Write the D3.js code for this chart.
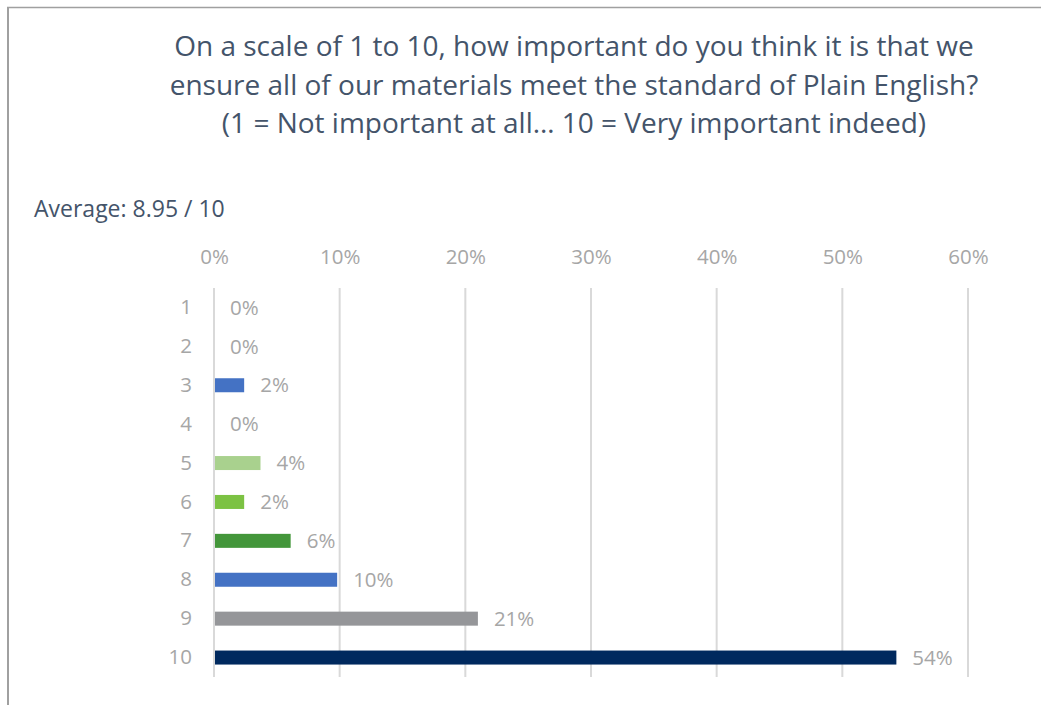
<!DOCTYPE html>
<html>
<head>
<meta charset="utf-8">
<script src="https://cdn.jsdelivr.net/npm/d3@7"></script>
<style>
  html, body { margin: 0; padding: 0; background: #fff; }
  svg { display: block; }
  text { font-family: "Open Sans", sans-serif; }
</style>
</head>
<body>
<svg id="chart" width="1041" height="705"></svg>
<script>
// Survey responses: share of respondents for each score
const scores = ["1", "2", "3", "4", "5", "6", "7", "8", "9", "10"];
const shares = [0, 0, 0.024, 0, 0.037, 0.024, 0.061, 0.098, 0.21, 0.543];
const barColors = ["#4472c4", "#4472c4", "#4472c4", "#4472c4", "#a9d18e",
                   "#7cc243", "#43963a", "#4472c4", "#959699", "#00295e"];
const xTicks = [0, 0.1, 0.2, 0.3, 0.4, 0.5, 0.6];
const titleLines = [
  "On a scale of 1 to 10, how important do you think it is that we",
  "ensure all of our materials meet the standard of Plain English?",
  "(1 = Not important at all\u2026 10 = Very important indeed)"
];
const averageText = "Average: 8.95 / 10";

const svg = d3.select("#chart");
const labelFont = "'Open Sans', sans-serif";
const labelSize = 20.5;
const labelColor = "#a6a6a6";

// Frame
svg.append("line").attr("x1", 7).attr("x2", 1041).attr("y1", 7.5).attr("y2", 7.5)
  .attr("stroke", "#a0a0a0").attr("stroke-width", 1.5);
svg.append("line").attr("x1", 8).attr("x2", 8).attr("y1", 7).attr("y2", 705)
  .attr("stroke", "#a0a0a0").attr("stroke-width", 2);

// Title
svg.append("g").selectAll("text").data(titleLines).join("text")
  .attr("x", 574).attr("y", (d, i) => 56 + i * 38.5)
  .attr("text-anchor", "middle")
  .attr("font-family", "Lato, sans-serif")
  .attr("font-size", 28)
  .attr("fill", "#44546a")
  .text(d => d);

svg.append("text")
  .attr("x", 34).attr("y", 217)
  .attr("font-size", 23)
  .attr("fill", "#44546a")
  .text(averageText);

const x = d3.scaleLinear().domain([0, 0.6]).range([214, 968]);
const y = d3.scaleBand().domain(scores).range([288, 677]).paddingInner(0.64).paddingOuter(0.32);

// Gridlines
svg.append("g").selectAll("line").data(xTicks).join("line")
  .attr("x1", d => x(d)).attr("x2", d => x(d))
  .attr("y1", 288).attr("y2", 677)
  .attr("stroke", "#d9d9d9").attr("stroke-width", 2);

// Top axis labels
const xAxis = svg.append("g").attr("transform", "translate(0,264)")
  .call(d3.axisTop(x).tickValues(xTicks).tickFormat(d3.format(".0%")).tickSize(0).tickPadding(0));
xAxis.select(".domain").remove();
xAxis.attr("font-family", labelFont).attr("font-size", labelSize);
xAxis.selectAll("text").attr("fill", labelColor).attr("dy", 0);

// Category labels
const yAxis = svg.append("g").attr("transform", "translate(192,0)")
  .call(d3.axisLeft(y).tickSize(0).tickPadding(0));
yAxis.select(".domain").remove();
yAxis.attr("font-family", labelFont).attr("font-size", labelSize);
yAxis.selectAll("text").attr("fill", labelColor);

const rows = scores.map((s, i) => ({ s, v: shares[i], c: barColors[i] }));

// Bars
svg.append("g").selectAll("rect").data(rows).join("rect")
  .attr("x", x(0) + 1)
  .attr("y", d => y(d.s))
  .attr("width", d => Math.max(0, x(d.v) - x(0) - 1))
  .attr("height", y.bandwidth())
  .attr("fill", d => d.c);

// Value labels
svg.append("g").selectAll("text").data(rows).join("text")
  .attr("x", d => x(d.v) + 16)
  .attr("y", d => y(d.s) + y.bandwidth() / 2)
  .attr("dy", "0.35em")
  .attr("font-size", labelSize)
  .attr("fill", labelColor)
  .text(d => d3.format(".0%")(d.v));
</script>
</body>
</html>
